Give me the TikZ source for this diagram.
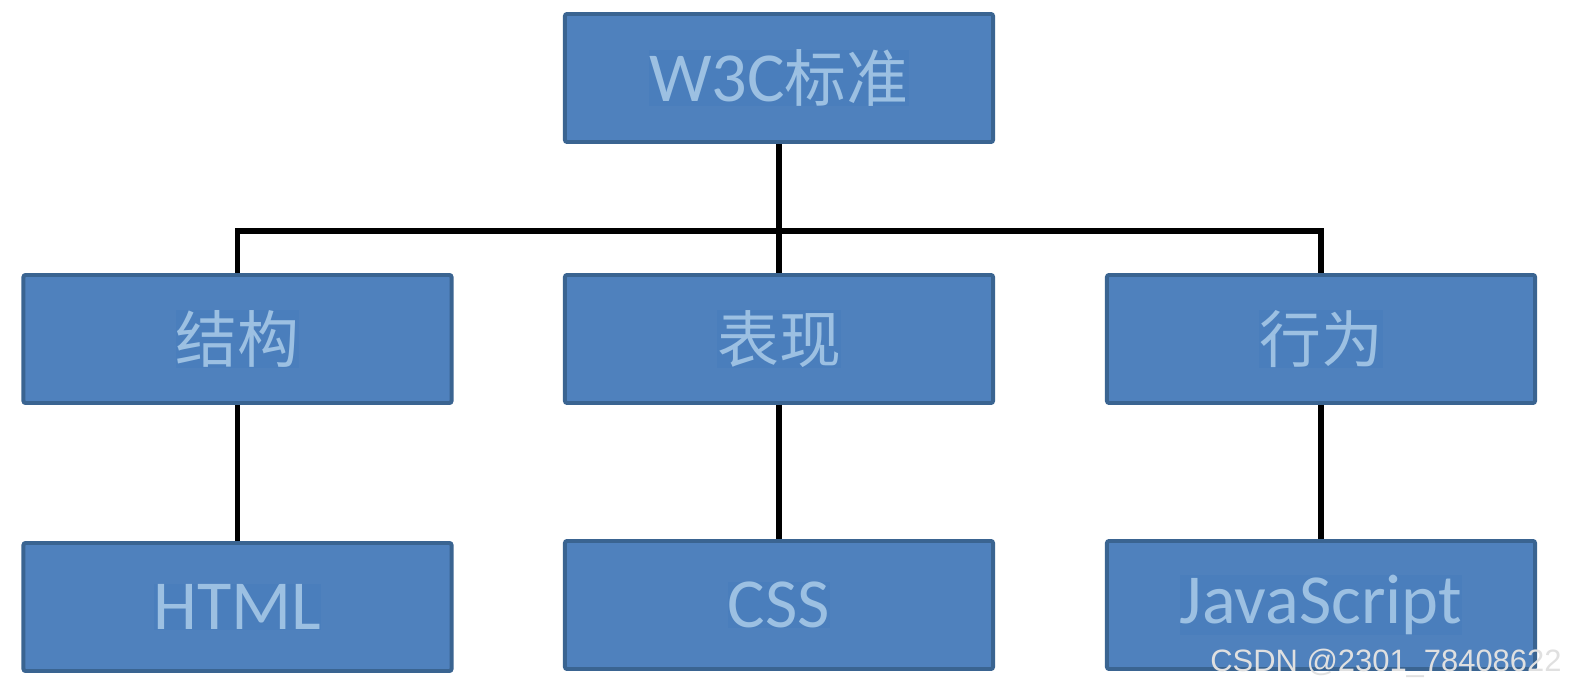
\documentclass[tikz,border=0pt]{standalone}
\usepackage{fontspec}
\setmainfont{Carlito}
\newfontfamily\cjk[Scale=0.88]{Noto Sans CJK SC}
\newfontfamily\wmfont{Liberation Sans}
\usepackage{tikz}

\definecolor{boxfill}{HTML}{4F81BD}
\definecolor{boxline}{HTML}{3A6491}
\definecolor{txtfg}{HTML}{9CC0E2}
\definecolor{txtbg}{HTML}{4A7EBC}
\setlength{\fboxsep}{0pt}
\newcommand{\tbg}[1]{\colorbox{txtbg}{#1}}

\begin{document}
\begin{tikzpicture}[
  x=0.025cm, y=-0.025cm,
  box/.style={draw=boxline, fill=boxfill, line width=2.8pt, rounded corners=1.5pt,
    minimum width=10.7cm, minimum height=3.2cm, inner sep=0pt,
    text=txtfg, font=\fontsize{50}{54}\selectfont},
  link/.style={line width=3.6pt, black},
  wm/.style={font=\wmfont\fontsize{22}{24}\selectfont, text=black!12, anchor=west, inner sep=0pt}
]
  \useasboundingbox (0,0) rectangle (1573,694);

  % top
  \node[box] (w3c) at (779,78) {\tbg{W3C{\cjk 标准}}};

  % middle row
  \node[box] (jiegou) at (237.5,339) {\tbg{\cjk 结构}};
  \node[box] (biaoxian) at (779,339) {\tbg{\cjk 表现}};
  \node[box] (xingwei) at (1321,339) {\tbg{\cjk 行为}};

  % bottom row
  \node[box] (html) at (237.5,607) {\tbg{HTML}};
  \node[box] (css) at (779,605) {\tbg{CSS}};
  \node[box] (js) at (1321,605) {\tbg{JavaScript}};

  % links
  \coordinate (bar) at (779,231);
  \draw[link] (w3c.south) -- (bar);
  \draw[link] (jiegou.north) |- (bar) -| (xingwei.north);
  \draw[link] (bar) -- (biaoxian.north);
  \draw[link] (jiegou) -- (html);
  \draw[link] (biaoxian) -- (css);
  \draw[link] (xingwei) -- (js);

  \node[wm] (mark) at (1210,663) {CSDN @2301\_78408622};
\end{tikzpicture}
\end{document}
